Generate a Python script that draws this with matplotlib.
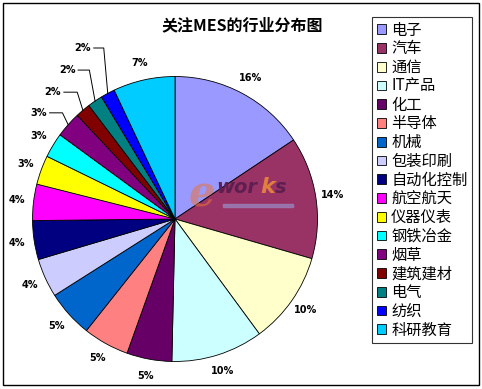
import matplotlib
matplotlib.use('Agg')
import numpy as np
import matplotlib.pyplot as plt
from matplotlib.patches import Rectangle

plt.rcParams['font.family'] = ['Noto Sans CJK SC', 'DejaVu Sans']

industries = ['电子', '汽车', '通信', 'IT产品', '化工', '半导体', '机械', '包装印刷',
              '自动化控制', '航空航天', '仪器仪表', '钢铁冶金', '烟草', '建筑建材',
              '电气', '纺织', '科研教育']
# shares (%)
shares = [15.6, 13.8, 10.4, 10.4, 5.1, 5.2, 5.3, 4.4, 4.4, 4.1, 3.3, 2.8, 2.9, 1.7,
          1.7, 1.6, 7.0]
colors = ['#9999FF', '#993366', '#FFFFCC', '#CCFFFF', '#660066', '#FF8080', '#0066CC',
          '#CCCCFF', '#000080', '#FF00FF', '#FFFF00', '#00FFFF', '#800080', '#800000',
          '#008080', '#0000FF', '#00CCFF']

# labels that sit away from their slice, with a leader line (pie units, label right edge)
leader_pos = {'烟草': (-0.90, 0.745), '建筑建材': (-0.80, 0.89),
              '电气': (-0.70, 1.045), '纺织': (-0.59, 1.20)}

W, H = 482, 389
fig = plt.figure(figsize=(W / 100, H / 100), dpi=100)
fig.patch.set_facecolor('white')

# pie: center (175, 219) px, radius 142.5 px
cx, cy, r = 175, 219, 142.5
half = 170
ax = fig.add_axes([(cx - half) / W, (H - cy - half) / H, 2 * half / W, 2 * half / H])

wedges, _ = ax.pie(shares, colors=colors, startangle=90, counterclock=False,
                   wedgeprops=dict(edgecolor='black', linewidth=0.6))
lim = half / r
ax.set_xlim(-lim, lim)
ax.set_ylim(-lim, lim)
ax.set_aspect('equal')
ax.axis('off')

total = sum(shares)
for w, name, v in zip(wedges, industries, shares):
    mid = np.deg2rad((w.theta1 + w.theta2) / 2)
    label = f'{100 * v / total:.0f}%'
    if name in leader_pos:
        tx, ty = leader_pos[name]
        ax.text(tx, ty, label, ha='right', va='center', fontsize=7, fontweight='bold',
                family='DejaVu Sans')
        ex, ey = np.cos(mid), np.sin(mid)
        kx = max(tx + 0.09, ex - 0.04)
        ax.plot([tx + 0.02, kx, ex], [ty, ty, ey], color='black', lw=0.7,
                clip_on=False)
    else:
        ax.text(1.12 * np.cos(mid), 1.12 * np.sin(mid), label, ha='center', va='center',
                fontsize=7, fontweight='bold', family='DejaVu Sans')

# watermark logo
fig.text(202 / W, 1 - 195 / H, 'e', fontsize=30, style='italic', fontweight='bold',
         color='#E8743C', alpha=0.55, ha='center', va='center', family='DejaVu Serif',
         zorder=10)
fig.text(216 / W, 1 - 193 / H, 'wor', fontsize=14, fontweight='bold', style='italic',
         color='#5E1F50', ha='left', va='baseline', family='DejaVu Sans', zorder=10)
fig.text(260 / W, 1 - 193 / H, 'k', fontsize=16, fontweight='bold', style='italic',
         color='#E0803C', ha='left', va='baseline', family='DejaVu Sans', zorder=10)
fig.text(275 / W, 1 - 193 / H, 's', fontsize=14, fontweight='bold', style='italic',
         color='#5E1F50', ha='left', va='baseline', family='DejaVu Sans', zorder=10)
fig.add_artist(Rectangle((223 / W, 1 - 207 / H), 70 / W, 3 / H, transform=fig.transFigure,
                         color='#9A80B8', alpha=0.8, zorder=10))

fig.text(242 / W, 1 - 25 / H, '关注MES的行业分布图', fontsize=11.5, fontweight='bold',
         ha='center', va='center')

leg = fig.legend(wedges, industries, loc='upper left',
                 bbox_to_anchor=(372 / W, 1 - 17 / H), fontsize=11,
                 handlelength=0.6, handleheight=0.6, handletextpad=0.35,
                 labelspacing=0.115, borderpad=0.3, borderaxespad=0,
                 fancybox=False, frameon=True, edgecolor='black')
leg.get_frame().set_linewidth(0.8)
for h in leg.legend_handles:
    h.set_edgecolor('black')
    h.set_linewidth(0.6)

# outer chart border
fig.add_artist(Rectangle((3 / W, 1 - 385 / H), 476 / W, 382 / H, transform=fig.transFigure,
                         fill=False, edgecolor='black', linewidth=1))

fig.savefig('out.png', dpi=100)
